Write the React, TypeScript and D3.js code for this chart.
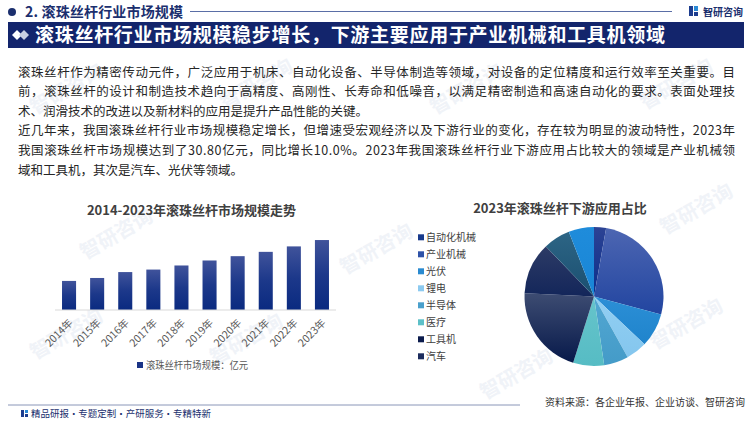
import React from "react";
import * as d3 from "d3";

const years = ["2014年", "2015年", "2016年", "2017年", "2018年", "2019年", "2020年", "2021年", "2022年", "2023年"];
const marketSize = [12.8, 14.1, 16.7, 17.8, 19.6, 21.8, 23.7, 25.6, 28.0, 30.8];

const pieCategories = ["自动化机械", "产业机械", "光伏", "锂电", "半导体", "医疗", "工具机", "汽车", "纺织机械", "其他"];
const pieShares = [2.8, 26.4, 7.9, 4.9, 5.7, 7.2, 20.9, 12.1, 6.3, 5.9];
const legendCount = 8;

const pieTop = ["#2c4394", "#4d66b2", "#2c8fd6", "#92cff2", "#52a7d2", "#66c4cb", "#3d4c72", "#2d3b66", "#2d6585", "#1f8cdb"];
const pieBottom = ["#0b2e8c", "#2245a0", "#1f84cc", "#84c6ee", "#449bc8", "#56bcc4", "#07194a", "#13265a", "#1a4f70", "#1986d6"];
const legendColors = ["#173a8c", "#2e52a8", "#2a8ad0", "#8ccaf0", "#4aa0cc", "#5cc0c8", "#0b1b4c", "#1b2b5c"];

const paragraph = [
  { t: "滚珠丝杆作为精密传动元件，广泛应用于机床、自动化设备、半导体制造等领域，对设备的定位精度和运行效率至关重要。目", full: true },
  { t: "前，滚珠丝杆的设计和制造技术趋向于高精度、高刚性、长寿命和低噪音，以满足精密制造和高速自动化的要求。表面处理技", full: true },
  { t: "术、润滑技术的改进以及新材料的应用是提升产品性能的关键。", full: false },
  { t: "近几年来，我国滚珠丝杆行业市场规模稳定增长，但增速受宏观经济以及下游行业的变化，存在较为明显的波动特性，2023年", full: true },
  { t: "我国滚珠丝杆市场规模达到了30.80亿元，同比增长10.0%。2023年我国滚珠丝杆行业下游应用占比较大的领域是产业机械领", full: true },
  { t: "域和工具机，其次是汽车、光伏等领域。", full: false },
];

const FONT = "'Noto Sans CJK SC', 'Noto Sans', sans-serif";

export default function App() {
  const x = d3.scaleBand<string>().domain(years).range([55, 336]).paddingInner(0.5).paddingOuter(0.25);
  const y = d3.scaleLinear().domain([0, 35]).range([310, 230.5]);

  const pie = d3.pie<number>().sort(null).value((d) => d)(pieShares);
  const arc = d3.arc<d3.PieArcDatum<number>>().innerRadius(0).outerRadius(69.5);
  const cx = 594, cy = 296.5;

  // faint background watermarks
  const marks = [
    [70, 95], [260, 90], [470, 95], [680, 90], [120, 240], [380, 255], [70, 340], [250, 345], [520, 380], [690, 330], [700, 215],
  ];

  return (
    <svg width={750} height={422} style={{ position: "absolute", left: 0, top: 0, fontFamily: FONT }}>
      <defs>
        <linearGradient id="barGrad" x1="0" y1="0" x2="0" y2="1">
          <stop offset="0" stopColor="#40539b" />
          <stop offset="0.5" stopColor="#1c388a" />
          <stop offset="1" stopColor="#0a2a80" />
        </linearGradient>
        {pieShares.map((_, i) => (
          <linearGradient key={i} id={`pg${i}`} x1="0" y1="0" x2="0" y2="1">
            <stop offset="0" stopColor={pieTop[i]} />
            <stop offset="1" stopColor={pieBottom[i]} />
          </linearGradient>
        ))}
      </defs>
      <rect width={750} height={422} fill="#ffffff" />

      {marks.map(([mx, my], i) => (
        <text key={i} x={mx} y={my} transform={`rotate(-30 ${mx} ${my})`} fontSize={20} fontWeight={700}
          fill="#f0f3f8" textAnchor="middle">智研咨询</text>
      ))}

      {/* header */}
      <circle cx={12} cy={12} r={4} fill="#1b2f6e" />
      <text x={25} y={17} fontSize={14} fontWeight={700} fill="#1b2f6e" textLength={158} lengthAdjust="spacing">2. 滚珠丝杆行业市场规模</text>
      <line x1={190} x2={672} y1={11.5} y2={11.5} stroke="#5a6ea6" strokeWidth={1} />
      <rect x={689} y={6} width={4} height={10} fill="#1d3d8f" />
      <rect x={694} y={6} width={4} height={5} fill="#2a8ad6" />
      <rect x={694} y={12} width={4} height={4} fill="#1d3d8f" />
      <text x={703} y={15.5} fontSize={10} fontWeight={700} fill="#1b2f6e">智研咨询</text>

      <rect x={8} y={22} width={736} height={26} fill="#13256c" />
      <path d="M12,35 L17,30 L22,35 L17,40 Z" fill="#ffffff" />
      <path d="M19,35 L24,30 L29,35 L24,40 Z" fill="#c9d0e2" />
      <text x={35} y={42} fontSize={19} fontWeight={700} fill="#ffffff" textLength={630} lengthAdjust="spacing">滚珠丝杆行业市场规模稳步增长，下游主要应用于产业机械和工具机领域</text>

      {/* paragraph */}
      {paragraph.map((l, i) => (
        <text key={i} x={18} y={76.5 + i * 19.6} fontSize={12.5} fill="#262626"
          textLength={l.full ? 717 : undefined} lengthAdjust="spacing">{l.t}</text>
      ))}

      {/* bar chart */}
      <text x={191.5} y={215} fontSize={13} fontWeight={700} fill="#404040" textAnchor="middle">2014-2023年滚珠丝杆市场规模走势</text>
      {years.map((yr, i) => (
        <rect key={yr} x={x(yr)} y={y(marketSize[i])} width={x.bandwidth()} height={y(0) - y(marketSize[i])} fill="url(#barGrad)" />
      ))}
      <line x1={55} x2={336} y1={y(0)} y2={y(0)} stroke="#d9d9d9" />
      {years.map((yr) => {
        const px = (x(yr) as number) + x.bandwidth() / 2 + 4.5;
        const py = 323.5;
        return (
          <text key={yr} x={px} y={py} transform={`rotate(-45 ${px} ${py})`} fontSize={10.5} fill="#595959" textAnchor="end">{yr}</text>
        );
      })}
      <rect x={137} y={362} width={6} height={6} fill="#1a3486" />
      <text x={146} y={369} fontSize={10} fill="#595959" textLength={102} lengthAdjust="spacingAndGlyphs">滚珠丝杆市场规模：亿元</text>

      {/* pie chart */}
      <text x={560} y={212.5} fontSize={13} fontWeight={700} fill="#404040" textAnchor="middle">2023年滚珠丝杆下游应用占比</text>
      <g transform={`translate(${cx},${cy})`}>
        {pie.map((d, i) => (
          <path key={i} d={arc(d) as string} fill={`url(#pg${i})`} />
        ))}
      </g>
      {pieCategories.slice(0, legendCount).map((c, i) => (
        <g key={c} transform={`translate(418,${237.3 + i * 17})`}>
          <rect x={0} y={-3} width={6} height={6} fill={legendColors[i]} />
          <text x={8} y={3.8} fontSize={10} fill="#404040">{c}</text>
        </g>
      ))}

      {/* footer */}
      <line x1={8} x2={520} y1={405} y2={405} stroke="#8a96b8" strokeWidth={1} />
      <text x={745} y={406} fontSize={10} fill="#333333" textAnchor="end">资料来源：各企业年报、企业访谈、智研咨询</text>
      <rect x={21} y={410} width={3} height={7} fill="#1d3d8f" />
      <rect x={25} y={410} width={3} height={3} fill="#2a8ad6" />
      <rect x={25} y={414} width={3} height={3} fill="#1d3d8f" />
      <text x={31} y={417} fontSize={9.5} fill="#1b2f6e" textLength={180} lengthAdjust="spacingAndGlyphs">精品研报·专题定制·产研服务·专精特新</text>
    </svg>
  );
}
